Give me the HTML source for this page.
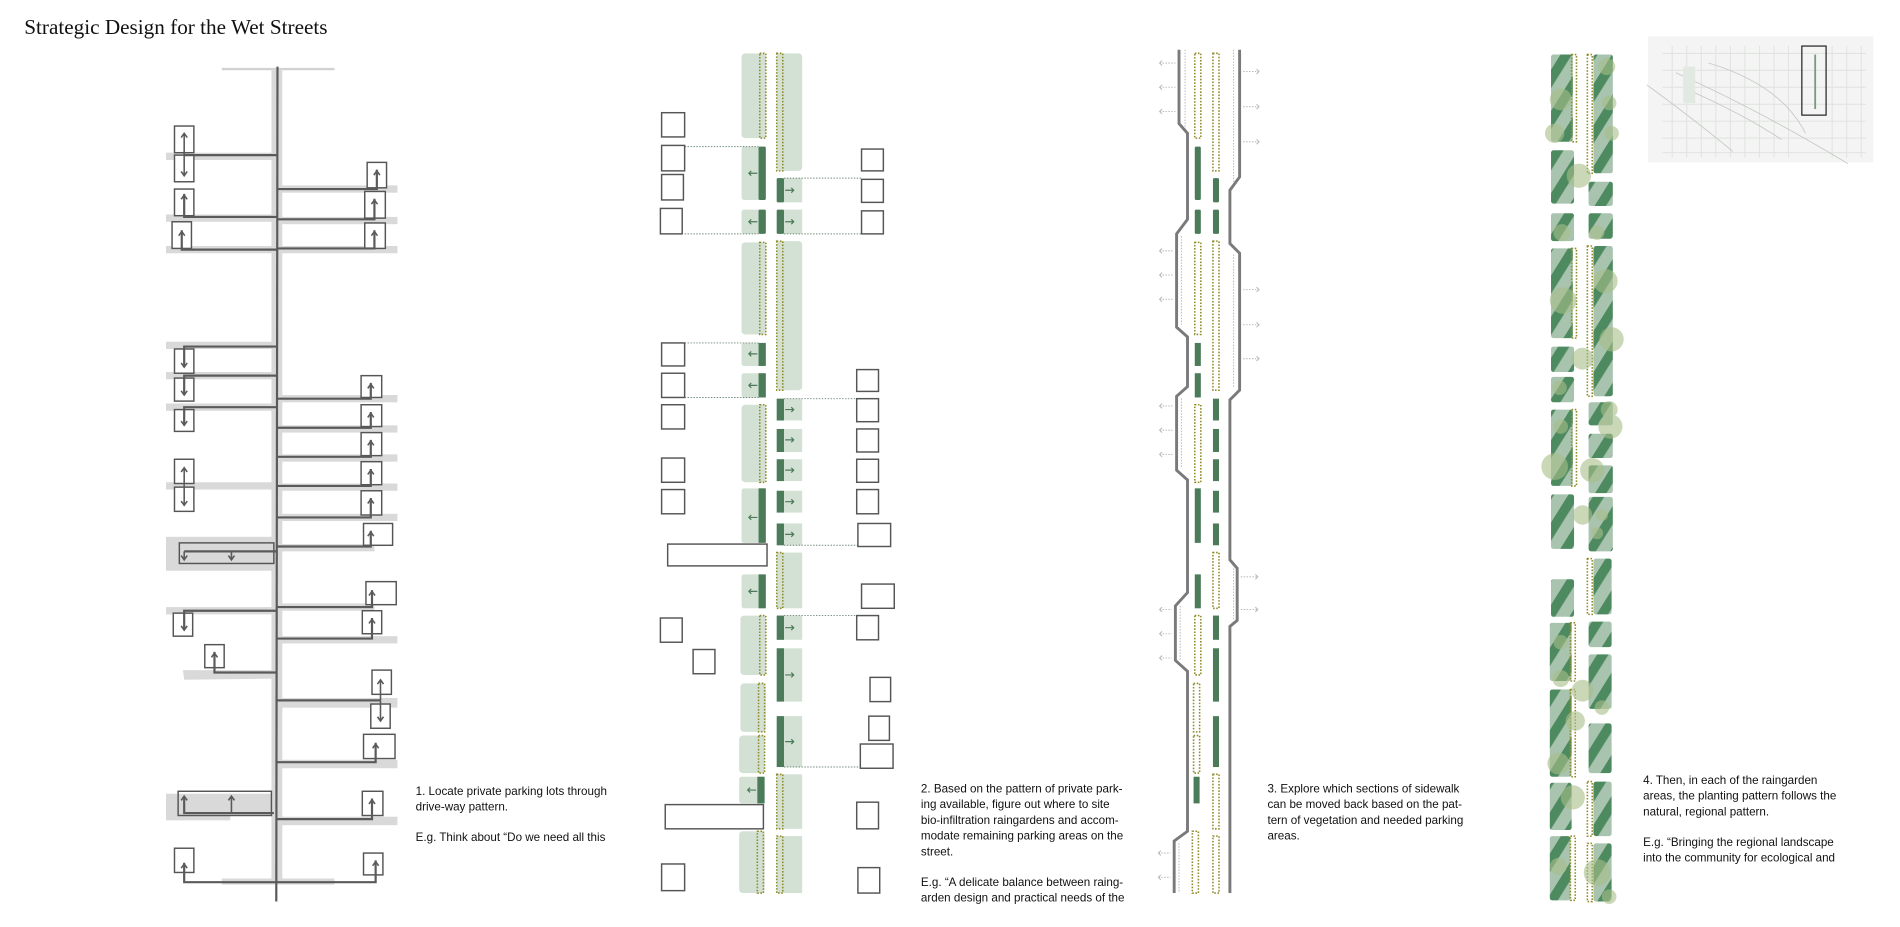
<!DOCTYPE html>
<html><head><meta charset="utf-8"><style>
html,body{margin:0;padding:0;background:#fff;}
svg{display:block}
.t{font-family:"Liberation Sans",Arial,sans-serif;font-size:9.6px;fill:#111}
.ti{font-family:"Liberation Serif",serif;font-size:17.5px;fill:#111}
.bx{fill:#fff;stroke:#555;stroke-width:1.2}
.dk{stroke:#5a5a5a;stroke-width:1.8;fill:none}
.band{fill:#d9d9d9}
.lg{fill:#d3e1d4}
.gb{fill:#4b7b59}
.dot{fill:none;stroke:#8f8c2a;stroke-width:1.3;stroke-dasharray:1.3 1.3}
.cn{stroke:#6f8a78;stroke-width:0.8;stroke-dasharray:1.2 1.2}
.ar{stroke:#5a5a5a;stroke-width:1.3;fill:none}
.ga{stroke:#4b7b59;stroke-width:1;fill:none}
.out{stroke:#7a7a7a;stroke-width:2.4;fill:none}
.pa{stroke:#bdbdbd;stroke-width:0.9;fill:none;stroke-dasharray:1.2 1.2}
.blk{fill:url(#st)}
.tree{fill:#a9bf8a;opacity:.6}
</style></head><body>
<svg width="1900" height="927" viewBox="0 0 1568 765" xmlns="http://www.w3.org/2000/svg">
<defs>
<pattern id="st" width="18" height="18" patternUnits="userSpaceOnUse" patternTransform="rotate(32)">
<rect width="18" height="18" fill="#a8c3ae"/><rect width="8" height="18" fill="#4e8a60"/>
</pattern>
</defs>
<text class="ti" x="20" y="28">Strategic Design for the Wet Streets</text>

<!-- PANEL 1 -->
<line x1="183" y1="57" x2="276" y2="57" stroke="#d2d2d2" stroke-width="2"/>
<rect class="band" x="224" y="57" width="9" height="670"/>
<rect class="band" x="183" y="725" width="93" height="5"/>
<g class="band">
<rect x="137" y="126" width="92" height="6"/><rect x="137" y="177" width="92" height="6"/><rect x="137" y="203" width="92" height="6"/>
<rect x="229" y="153" width="99" height="6"/><rect x="229" y="179" width="99" height="6"/><rect x="229" y="203" width="99" height="6"/>
<rect x="137" y="282" width="92" height="6"/><rect x="137" y="307" width="92" height="6"/><rect x="137" y="333" width="92" height="6"/>
<rect x="229" y="326" width="99" height="6"/><rect x="229" y="351" width="99" height="6"/><rect x="229" y="375" width="99" height="6"/>
<rect x="137" y="398" width="92" height="6"/><rect x="229" y="399" width="99" height="6"/><rect x="229" y="424" width="99" height="6"/>
<rect x="229" y="449" width="80" height="6"/><rect x="137" y="443" width="92" height="28"/>
<rect x="229" y="498" width="80" height="6"/><rect x="137" y="501" width="92" height="6"/><rect x="229" y="525" width="99" height="6"/>
<polygon points="151,553 229,553 229,560 152,561"/>
<rect x="229" y="576" width="99" height="8"/><rect x="229" y="627" width="99" height="7"/>
<rect x="137" y="655" width="92" height="18"/><rect x="137" y="673" width="53" height="4"/><rect x="229" y="674" width="99" height="7"/>
</g>
<line class="dk" x1="229" y1="55" x2="228" y2="744"/>
<g class="bx">
<rect x="144" y="104" width="16" height="22"/><rect x="144" y="128" width="16" height="22"/>
<rect x="144" y="156" width="16" height="22"/><rect x="142" y="183" width="16" height="22"/>
<rect x="303" y="134" width="16" height="21"/><rect x="301" y="158" width="17" height="22"/><rect x="301" y="184" width="17" height="21"/>
<rect x="144" y="288" width="16" height="20"/><rect x="144" y="312" width="16" height="19"/><rect x="144" y="338" width="16" height="18"/>
<rect x="298" y="310" width="17" height="18"/><rect x="298" y="334" width="17" height="18"/><rect x="298" y="357" width="17" height="19"/>
<rect x="144" y="379" width="16" height="20"/><rect x="144" y="402" width="16" height="20"/>
<rect x="298" y="381" width="17" height="19"/><rect x="298" y="405" width="17" height="20"/><rect x="300" y="432" width="24" height="18"/>
<rect x="148" y="448" width="78" height="17" fill="none"/>
<rect x="302" y="480" width="25" height="19"/><rect x="143" y="506" width="16" height="19"/><rect x="299" y="504" width="16" height="19"/>
<rect x="169" y="532" width="16" height="19"/>
<rect x="307" y="553" width="16" height="20"/><rect x="306" y="581" width="16" height="20"/><rect x="300" y="606" width="26" height="20"/>
<rect x="147" y="653" width="77" height="20" fill="none"/><rect x="299" y="653" width="17" height="20"/>
<rect x="144" y="700" width="16" height="20"/><rect x="300" y="704" width="16" height="18"/>
</g>
<g class="dk">
<polyline points="229,128 152,128"/><polyline points="229,179 152,179 152,160"/><polyline points="229,206 150,206 150,190"/>
<polyline points="229,156 311,156 311,140"/><polyline points="229,181 309,181 309,164"/><polyline points="229,205 309,205 309,190"/>
<polyline points="229,286 152,286 152,303"/><polyline points="229,310 152,310 152,326"/><polyline points="229,336 152,336 152,351"/>
<polyline points="229,329 306,329 306,316"/><polyline points="229,353 306,353 306,340"/><polyline points="229,377 306,377 306,363"/>
<polyline points="229,401 306,401 306,387"/><polyline points="229,427 306,427 306,411"/><polyline points="229,451 306,451 306,438"/>
<polyline points="229,455 152,455"/><polyline points="229,501 307,501 307,487"/><polyline points="229,504 152,504 152,520"/>
<polyline points="229,527 307,527 307,510"/><polyline points="229,555 177,555 177,538"/>
<polyline points="229,578 314,578"/><polyline points="228,629 310,629 310,613"/>
<polyline points="226,671 152,671 152,658"/><polyline points="228,676 307,676 307,659"/>
<polyline points="152,712 152,728 310,728 310,710"/>
</g>
<g class="ar">
<path d="M152,128V110M149.5,113.5L152,110L154.5,113.5"/>
<path d="M152,128V145M149.5,141.5L152,145L154.5,141.5"/>
<path d="M149.5,164.5L152,161L154.5,164.5"/>
<path d="M147.5,194.5L150,191L152.5,194.5"/>
<path d="M308.5,144.5L311,141L313.5,144.5"/>
<path d="M306.5,168.5L309,165L311.5,168.5"/>
<path d="M306.5,194.5L309,191L311.5,194.5"/>
<path d="M149.5,299.5L152,303L154.5,299.5"/>
<path d="M149.5,322.5L152,326L154.5,322.5"/>
<path d="M149.5,347.5L152,351L154.5,347.5"/>
<path d="M303.5,320.5L306,317L308.5,320.5"/>
<path d="M303.5,344.5L306,341L308.5,344.5"/>
<path d="M303.5,367.5L306,364L308.5,367.5"/>
<path d="M152,401V386M149.5,389.5L152,386L154.5,389.5"/>
<path d="M152,401V417M149.5,413.5L152,417L154.5,413.5"/>
<path d="M303.5,391.5L306,388L308.5,391.5"/>
<path d="M303.5,415.5L306,412L308.5,415.5"/>
<path d="M303.5,442.5L306,439L308.5,442.5"/>
<path d="M152,455V462M149.5,458.5L152,462L154.5,458.5"/>
<path d="M191,455V462M188.5,458.5L191,462L193.5,458.5"/>
<path d="M304.5,491.5L307,488L309.5,491.5"/>
<path d="M149.5,516.5L152,520L154.5,516.5"/>
<path d="M304.5,514.5L307,511L309.5,514.5"/>
<path d="M174.5,542.5L177,539L179.5,542.5"/>
<path d="M314,578V561M311.5,564.5L314,561L316.5,564.5"/>
<path d="M314,578V595M311.5,591.5L314,595L316.5,591.5"/>
<path d="M307.5,617.5L310,614L312.5,617.5"/>
<path d="M149.5,660.5L152,657L154.5,660.5"/>
<path d="M191,671V657M188.5,660.5L191,657L193.5,660.5"/>
<path d="M304.5,663.5L307,660L309.5,663.5"/>
<path d="M149.5,716.5L152,713L154.5,716.5"/>
<path d="M307.5,714.5L310,711L312.5,714.5"/>
</g>
<text class="t" x="343" y="656">1. Locate private parking lots through</text>
<text class="t" x="343" y="669">drive-way pattern.</text>
<text class="t" x="343" y="694">E.g. Think about “Do we need all this</text>

<!-- PANEL 2 -->
<g class="lg">
<rect x="612" y="44" width="20" height="70" rx="3"/><rect x="612" y="121" width="20" height="44" rx="2"/><rect x="612" y="173" width="20" height="20" rx="2"/>
<rect x="612" y="200" width="20" height="76" rx="3"/><rect x="612" y="283" width="20" height="19" rx="2"/><rect x="612" y="308" width="20" height="20" rx="2"/>
<rect x="612" y="334" width="20" height="64" rx="3"/><rect x="612" y="403" width="20" height="45" rx="2"/><rect x="612" y="474" width="20" height="28" rx="2"/>
<rect x="611" y="508" width="21" height="49" rx="3"/><rect x="611" y="564" width="21" height="40" rx="3"/><rect x="610" y="607" width="21" height="31" rx="3"/>
<rect x="610" y="641" width="21" height="22" rx="2"/><rect x="610" y="686" width="21" height="51" rx="3"/>
<rect x="641" y="44" width="21" height="97" rx="3"/><rect x="641" y="147" width="21" height="20"/><rect x="641" y="173" width="21" height="20"/>
<rect x="641" y="199" width="21" height="123" rx="3"/><rect x="641" y="329" width="21" height="18"/><rect x="641" y="354" width="21" height="19"/>
<rect x="641" y="379" width="21" height="18"/><rect x="641" y="405" width="21" height="18"/><rect x="641" y="432" width="21" height="18"/>
<rect x="641" y="456" width="21" height="46"/><rect x="641" y="508" width="21" height="20"/><rect x="641" y="535" width="21" height="44"/>
<rect x="641" y="591" width="21" height="42"/><rect x="641" y="639" width="21" height="45"/><rect x="641" y="690" width="21" height="47"/>
</g>
<g class="gb">
<rect x="626" y="121" width="6" height="44" rx="1"/><rect x="626" y="173" width="6" height="20" rx="1"/><rect x="626" y="283" width="6" height="19"/>
<rect x="626" y="308" width="6" height="20"/><rect x="626" y="403" width="6" height="45"/><rect x="626" y="474" width="6" height="28"/><rect x="625" y="641" width="6" height="22"/>
<rect x="641" y="147" width="6" height="20" rx="1"/><rect x="641" y="173" width="6" height="20" rx="1"/><rect x="641" y="329" width="6" height="18"/>
<rect x="641" y="354" width="6" height="19"/><rect x="641" y="379" width="6" height="18"/><rect x="641" y="405" width="6" height="18"/>
<rect x="641" y="432" width="6" height="18"/><rect x="641" y="508" width="6" height="20"/><rect x="641" y="535" width="6" height="44"/><rect x="641" y="591" width="6" height="42"/>
</g>
<g class="dot">
<rect x="627" y="44" width="5" height="70"/><rect x="627" y="200" width="5" height="76"/><rect x="627" y="334" width="5" height="64"/>
<rect x="627" y="508" width="5" height="49"/><rect x="626" y="564" width="5" height="40"/><rect x="626" y="607" width="5" height="31"/><rect x="625" y="686" width="5" height="51"/>
<rect x="641" y="44" width="5" height="97"/><rect x="641" y="199" width="5" height="123"/><rect x="641" y="456" width="5" height="46"/>
<rect x="641" y="639" width="5" height="45"/><rect x="641" y="690" width="5" height="47"/>
</g>
<g class="ga">
<path d="M625,143 H618 M620,141 L618,143 L620,145"/><path d="M625,183 H618 M620,181 L618,183 L620,185"/><path d="M625,292 H618 M620,290 L618,292 L620,294"/>
<path d="M625,318 H618 M620,316 L618,318 L620,320"/><path d="M625,427 H618 M620,425 L618,427 L620,429"/><path d="M625,488 H618 M620,486 L618,488 L620,490"/>
<path d="M624,652 H617 M619,650 L617,652 L619,654"/>
<path d="M648,157 H655 M653,155 L655,157 L653,159"/><path d="M648,183 H655 M653,181 L655,183 L653,185"/><path d="M648,338 H655 M653,336 L655,338 L653,340"/>
<path d="M648,363 H655 M653,361 L655,363 L653,365"/><path d="M648,388 H655 M653,386 L655,388 L653,390"/><path d="M648,414 H655 M653,412 L655,414 L653,416"/>
<path d="M648,441 H655 M653,439 L655,441 L653,443"/><path d="M648,518 H655 M653,516 L655,518 L653,520"/><path d="M648,557 H655 M653,555 L655,557 L653,559"/><path d="M648,612 H655 M653,610 L655,612 L653,614"/>
</g>
<g class="cn">
<line x1="565" y1="121" x2="626" y2="121"/><line x1="565" y1="193" x2="626" y2="193"/><line x1="565" y1="283" x2="626" y2="283"/>
<line x1="565" y1="328" x2="626" y2="328"/><line x1="647" y1="147" x2="711" y2="147"/><line x1="647" y1="193" x2="711" y2="193"/>
<line x1="647" y1="329" x2="707" y2="329"/><line x1="647" y1="450" x2="708" y2="450"/><line x1="647" y1="508" x2="707" y2="508"/><line x1="647" y1="633" x2="710" y2="633"/>
</g>
<g class="bx">
<rect x="546" y="93" width="19" height="20"/><rect x="546" y="120" width="19" height="21"/><rect x="546" y="144" width="18" height="21"/><rect x="545" y="172" width="18" height="21"/>
<rect x="546" y="283" width="19" height="19"/><rect x="546" y="308" width="19" height="20"/><rect x="546" y="334" width="19" height="20"/>
<rect x="546" y="378" width="19" height="20"/><rect x="546" y="404" width="19" height="20"/><rect x="551" y="449" width="82" height="18"/>
<rect x="545" y="510" width="18" height="20"/><rect x="572" y="536" width="18" height="20"/><rect x="549" y="664" width="81" height="20"/><rect x="546" y="713" width="19" height="22"/>
<rect x="711" y="123" width="18" height="18"/><rect x="711" y="148" width="18" height="19"/><rect x="711" y="174" width="18" height="19"/>
<rect x="707" y="305" width="18" height="18"/><rect x="707" y="329" width="18" height="19"/><rect x="707" y="354" width="18" height="19"/>
<rect x="707" y="379" width="18" height="19"/><rect x="707" y="404" width="18" height="20"/><rect x="708" y="432" width="27" height="19"/>
<rect x="711" y="482" width="27" height="20"/><rect x="707" y="508" width="18" height="20"/><rect x="718" y="559" width="17" height="20"/>
<rect x="717" y="591" width="17" height="20"/><rect x="710" y="614" width="27" height="20"/><rect x="707" y="662" width="18" height="22"/><rect x="708" y="716" width="18" height="21"/>
</g>
<text class="t" x="760" y="654">2. Based on the pattern of private park-</text>
<text class="t" x="760" y="667">ing available, figure out where to site</text>
<text class="t" x="760" y="680">bio-infiltration raingardens and accom-</text>
<text class="t" x="760" y="693">modate remaining parking areas on the</text>
<text class="t" x="760" y="706">street.</text>
<text class="t" x="760" y="731">E.g. “A delicate balance between raing-</text>
<text class="t" x="760" y="744">arden design and practical needs of the</text>

<!-- PANEL 3 -->
<path class="pa" d="M978,41 V108 M975,195 V268 M975,329 V386 M974,500 V545 M973,696 V737 M1018,41 V150 M1018,210 V320 M1018,469 V512"/>
<path class="out" d="M973,41 L973,102 L980,110 L980,181 L971,193 L971,270 L980,278 L980,319 L971,327 L971,388 L980,396 L980,489 L970,500 L970,545 L980,554 L980,686 L969,694 L969,737"/>
<path class="out" d="M1023,41 L1023,146 L1015,157 L1015,201 L1023,209 L1023,322 L1015,330 L1015,462 L1021,469 L1021,512 L1015,517 L1015,737"/>
<g class="gb">
<rect x="986" y="121" width="5" height="44" rx="1"/><rect x="986" y="173" width="5" height="20" rx="1"/><rect x="986" y="283" width="5" height="19"/>
<rect x="986" y="308" width="5" height="20"/><rect x="986" y="403" width="5" height="45"/><rect x="986" y="474" width="5" height="28"/><rect x="985" y="641" width="5" height="22"/>
<rect x="1001" y="147" width="5" height="20" rx="1"/><rect x="1001" y="173" width="5" height="20" rx="1"/><rect x="1001" y="329" width="5" height="18"/>
<rect x="1001" y="354" width="5" height="19"/><rect x="1001" y="379" width="5" height="18"/><rect x="1001" y="405" width="5" height="18"/>
<rect x="1001" y="432" width="5" height="18"/><rect x="1001" y="508" width="5" height="20"/><rect x="1001" y="535" width="5" height="44"/><rect x="1001" y="591" width="5" height="42"/>
</g>
<g class="dot">
<rect x="986" y="44" width="5" height="70"/><rect x="986" y="200" width="5" height="76"/><rect x="986" y="334" width="5" height="64"/>
<rect x="986" y="508" width="5" height="49"/><rect x="985" y="564" width="5" height="40"/><rect x="985" y="607" width="5" height="31"/><rect x="984" y="686" width="5" height="51"/>
<rect x="1001" y="44" width="5" height="97"/><rect x="1001" y="199" width="5" height="123"/><rect x="1001" y="456" width="5" height="46"/>
<rect x="1001" y="639" width="5" height="45"/><rect x="1001" y="690" width="5" height="47"/>
</g>
<g stroke="#bbb" stroke-width="0.9" fill="none">
<g stroke-dasharray="1.2 1.2"><path d="M957,52H970M957,72H970M957,92H970M957,207H968M957,227H968M957,247H968M957,335H968M957,355H968M957,375H968M957,503H967M957,523H967M957,543H967M956,704H966M956,724H966"/>
<path d="M1026,59H1039M1026,88H1039M1026,117H1039M1026,239H1039M1026,268H1039M1026,296H1039M1024,476H1038M1024,503H1038"/></g>
<path d="M959,50L957,52L959,54M959,70L957,72L959,74M959,90L957,92L959,94M959,205L957,207L959,209M959,225L957,227L959,229M959,245L957,247L959,249M959,333L957,335L959,337M959,353L957,355L959,357M959,373L957,375L959,377M959,501L957,503L959,505M959,521L957,523L959,525M959,541L957,543L959,545M958,702L956,704L958,706M958,722L956,724L958,726"/>
<path d="M1037,57L1039,59L1037,61M1037,86L1039,88L1037,90M1037,115L1039,117L1037,119M1037,237L1039,239L1037,241M1037,266L1039,268L1037,270M1037,294L1039,296L1037,298M1036,474L1038,476L1036,478M1036,501L1038,503L1036,505"/>
</g>
<text class="t" x="1046" y="654">3. Explore which sections of sidewalk</text>
<text class="t" x="1046" y="667">can be moved back based on the pat-</text>
<text class="t" x="1046" y="680">tern of vegetation and needed parking</text>
<text class="t" x="1046" y="693">areas.</text>

<!-- PANEL 4 -->
<g class="blk">
<rect x="1280" y="45" width="18" height="72" rx="2"/><rect x="1280" y="124" width="19" height="44" rx="2"/><rect x="1280" y="176" width="19" height="23" rx="2"/>
<rect x="1280" y="205" width="18" height="74" rx="2"/><rect x="1280" y="286" width="19" height="21" rx="2"/><rect x="1280" y="311" width="19" height="21" rx="2"/>
<rect x="1280" y="338" width="18" height="63" rx="2"/><rect x="1280" y="408" width="19" height="45" rx="2"/><rect x="1280" y="478" width="19" height="31" rx="2"/>
<rect x="1279" y="514" width="18" height="48" rx="2"/><rect x="1279" y="569" width="18" height="72" rx="2"/><rect x="1279" y="646" width="18" height="39" rx="2"/><rect x="1279" y="690" width="17" height="53" rx="2"/>
<rect x="1315" y="45" width="16" height="98" rx="2"/><rect x="1311" y="150" width="20" height="20" rx="2"/><rect x="1311" y="176" width="20" height="21" rx="2"/>
<rect x="1315" y="203" width="16" height="124" rx="2"/><rect x="1311" y="332" width="20" height="19" rx="2"/><rect x="1311" y="358" width="20" height="20" rx="2"/>
<rect x="1311" y="384" width="20" height="23" rx="2"/><rect x="1311" y="410" width="20" height="45" rx="2"/><rect x="1315" y="461" width="15" height="46" rx="2"/>
<rect x="1311" y="513" width="19" height="21" rx="2"/><rect x="1311" y="540" width="19" height="45" rx="2"/><rect x="1311" y="597" width="19" height="41" rx="2"/>
<rect x="1315" y="645" width="15" height="45" rx="2"/><rect x="1315" y="696" width="15" height="48" rx="2"/>
</g>
<g class="dot" stroke-width="1.6">
<rect x="1297" y="45" width="4" height="72"/><rect x="1297" y="205" width="4" height="74"/><rect x="1297" y="338" width="4" height="63"/>
<rect x="1296" y="514" width="4" height="48"/><rect x="1296" y="569" width="4" height="72"/><rect x="1296" y="690" width="4" height="53"/>
<rect x="1310" y="45" width="4" height="98"/><rect x="1310" y="203" width="4" height="124"/><rect x="1310" y="461" width="4" height="46"/>
<rect x="1310" y="645" width="4" height="45"/><rect x="1310" y="696" width="4" height="48"/>
</g>
<g class="tree">
<circle cx="1326" cy="55" r="7"/><circle cx="1288" cy="82" r="9"/><circle cx="1283" cy="110" r="8"/><circle cx="1328" cy="85" r="6"/><circle cx="1330" cy="110" r="6"/>
<circle cx="1303" cy="145" r="10"/><circle cx="1289" cy="192" r="7"/><circle cx="1318" cy="192" r="6"/><circle cx="1325" cy="232" r="10"/>
<circle cx="1290" cy="248" r="11"/><circle cx="1330" cy="280" r="10"/><circle cx="1306" cy="296" r="9"/><circle cx="1287" cy="320" r="6"/>
<circle cx="1328" cy="338" r="7"/><circle cx="1329" cy="352" r="10"/><circle cx="1288" cy="352" r="6"/><circle cx="1283" cy="385" r="11"/><circle cx="1314" cy="388" r="10"/>
<circle cx="1318" cy="440" r="5"/><circle cx="1306" cy="425" r="8"/><circle cx="1322" cy="425" r="5"/><circle cx="1288" cy="530" r="6"/><circle cx="1288" cy="560" r="7"/>
<circle cx="1306" cy="570" r="9"/><circle cx="1322" cy="584" r="6"/><circle cx="1300" cy="595" r="8"/><circle cx="1286" cy="630" r="9"/>
<circle cx="1298" cy="658" r="10"/><circle cx="1286" cy="715" r="7"/><circle cx="1318" cy="720" r="11"/><circle cx="1328" cy="740" r="6"/>
</g>
<!-- inset map -->
<rect x="1360" y="30" width="186" height="104" fill="#f3f4f3"/>
<g stroke="#e0e2e0" stroke-width="0.8" fill="none">
<path d="M1372,44H1540M1372,58H1540M1372,72H1540M1372,86H1540M1372,100H1540M1372,114H1540M1372,126H1540"/>
<path d="M1380,38V130M1392,38V130M1404,38V130M1416,38V130M1428,38V130M1440,38V130M1452,38V130M1464,38V130M1476,38V130M1512,38V130M1524,38V130M1536,38V130"/>
</g>
<g stroke="#c5c8c5" stroke-width="0.7" fill="none">
<path d="M1359,70 Q1400,100 1430,125 M1383,60 Q1450,90 1525,135 M1410,52 Q1470,70 1490,110 M1395,75 Q1440,95 1470,115"/>
</g>
<rect x="1389" y="55" width="10" height="30" fill="#e2e8e2"/>
<rect x="1487" y="38" width="20" height="57" fill="none" stroke="#222" stroke-width="1"/>
<line x1="1498" y1="45" x2="1498" y2="90" stroke="#7a9a80" stroke-width="1.5"/>
<text class="t" x="1356" y="647">4. Then, in each of the raingarden</text>
<text class="t" x="1356" y="660">areas, the planting pattern follows the</text>
<text class="t" x="1356" y="673">natural, regional pattern.</text>
<text class="t" x="1356" y="698">E.g. “Bringing the regional landscape</text>
<text class="t" x="1356" y="711">into the community for ecological and</text>
</svg>
</body></html>
